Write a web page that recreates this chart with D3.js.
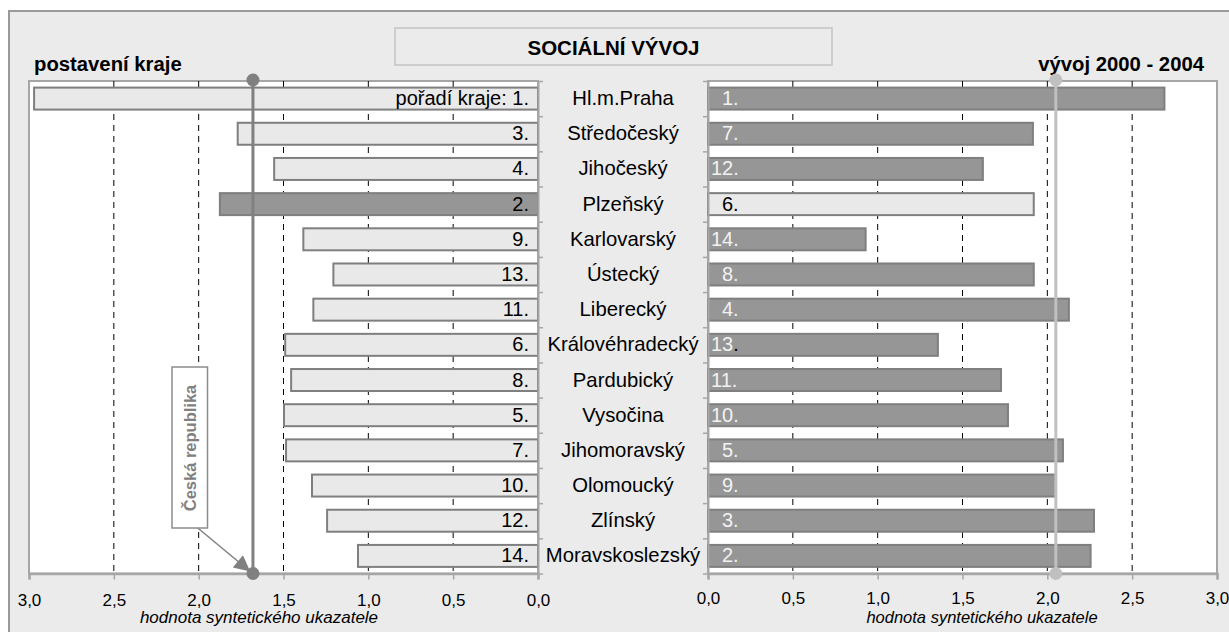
<!DOCTYPE html>
<html><head><meta charset="utf-8">
<script src="https://cdn.jsdelivr.net/npm/d3@7"></script>
<style>
html,body{margin:0;padding:0;background:#fff;}
svg{display:block;font-family:"Liberation Sans",Arial,sans-serif;}
</style></head>
<body>
<script>
// ---- data ----
const categories = ["Hl.m.Praha","Středočeský","Jihočeský","Plzeňský","Karlovarský","Ústecký","Liberecký","Královéhradecký","Pardubický","Vysočina","Jihomoravský","Olomoucký","Zlínský","Moravskoslezský"];
const positionValues = [2.97,1.77,1.555,1.875,1.383,1.206,1.324,1.49,1.455,1.497,1.485,1.332,1.243,1.061];
const positionRanks = [1,3,4,2,9,13,11,6,8,5,7,10,12,14];
const developmentValues = [2.69,1.915,1.62,1.92,0.929,1.92,2.127,1.355,1.727,1.768,2.092,2.05,2.275,2.255];
const developmentRanks = [1,7,12,6,14,8,4,13,11,10,5,9,3,2];
const highlighted = "Plzeňský";
const crPosition = 1.68;
const crDevelopment = 2.05;
const tickValues = [0,0.5,1.0,1.5,2.0,2.5,3.0];
const titleText = "SOCIÁLNÍ VÝVOJ";
const leftTitle = "postavení kraje";
const rightTitle = "vývoj 2000 - 2004";
const axisTitle = "hodnota syntetického ukazatele";
const crLabel = "Česká republika";

// ---- layout ----
const W = 1229, H = 632;
const yTop = 81, yBot = 573.5;
const L = {x0: 29, x1: 538};
const R = {x0: 708, x1: 1217};
const C = {dark:"#969696", light:"#e9e9e9", stroke:"#7f7f7f", frame:"#a6a6a6", bg:"#ebebeb"};

const loc = d3.formatLocale({decimal:",", thousands:" ", grouping:[3], currency:["","Kč"]});
const fmt = loc.format(".1f");

const svg = d3.select("body").append("svg").attr("width", W).attr("height", H);
svg.append("rect").attr("width", W).attr("height", H).attr("fill", "#fff");
svg.append("rect").attr("x", 9).attr("y", 11).attr("width", W + 20).attr("height", H + 20)
  .attr("fill", C.bg).attr("stroke", "#9a9a9a").attr("stroke-width", 2);

// title box
svg.append("rect").attr("x", 395).attr("y", 28).attr("width", 437).attr("height", 37)
  .attr("fill", C.bg).attr("stroke", "#c4c4c4").attr("stroke-width", 1.5);
svg.append("text").attr("x", 613.5).attr("y", 54.5).attr("text-anchor", "middle")
  .attr("font-weight", "bold").attr("font-size", 20.5).attr("fill", "#000").text(titleText);
svg.append("text").attr("x", 34).attr("y", 71).attr("font-weight", "bold")
  .attr("font-size", 20.3).text(leftTitle);
svg.append("text").attr("x", 1204).attr("y", 71).attr("text-anchor", "end").attr("font-weight", "bold")
  .attr("font-size", 20.3).text(rightTitle);

const y = d3.scaleBand().domain(categories).range([yTop, yBot]).paddingInner(0.375).paddingOuter(0.1875);
const yIdx = d3.scaleLinear().domain([0, categories.length]).range([yTop, yBot]);
const xL = d3.scaleLinear().domain([3, 0]).range([L.x0, L.x1]);
const xR = d3.scaleLinear().domain([0, 3]).range([R.x0, R.x1]);

function panel(x, P, values, side) {
  const g = svg.append("g");
  g.append("rect").attr("x", P.x0).attr("y", yTop).attr("width", P.x1 - P.x0).attr("height", yBot - yTop)
    .attr("fill", "#fff").attr("stroke", C.frame).attr("stroke-width", 2);
  g.selectAll(".grid").data(tickValues.filter(v => v > 0 && v < 3)).join("line")
    .attr("x1", d => x(d)).attr("x2", d => x(d)).attr("y1", yTop).attr("y2", yBot)
    .attr("stroke", "#000").attr("stroke-width", 1).attr("stroke-dasharray", "6,5");
  g.selectAll(".bar").data(categories).join("rect")
    .attr("x", (d, i) => Math.min(x(0), x(values[i])))
    .attr("width", (d, i) => Math.abs(x(values[i]) - x(0)))
    .attr("y", d => y(d)).attr("height", y.bandwidth())
    .attr("fill", d => {
      const hl = d === highlighted;
      return side === "L" ? (hl ? C.dark : C.light) : (hl ? C.light : C.dark);
    })
    .attr("stroke", C.stroke).attr("stroke-width", 2);
  const ax = g.append("g").attr("transform", `translate(0,${yBot})`)
    .call(d3.axisBottom(x).tickValues(tickValues).tickFormat(fmt).tickSize(6).tickPadding(side === "L" ? 14 : 12));
  ax.select(".domain").attr("stroke", C.frame).attr("stroke-width", 2.5);
  ax.selectAll(".tick line").attr("stroke", C.frame).attr("stroke-width", 1.5);
  ax.selectAll(".tick text").attr("font-size", 17).attr("fill", "#000")
    .attr("font-family", "'Liberation Sans',Arial,sans-serif");
  const cx = side === "L" ? P.x1 : P.x0;
  const cax = g.append("g").attr("transform", `translate(${cx},0)`)
    .call((side === "L" ? d3.axisRight(yIdx) : d3.axisLeft(yIdx)).tickValues(d3.range(categories.length + 1)).tickFormat("").tickSize(5).tickSizeOuter(0));
  cax.select(".domain").attr("stroke", C.frame).attr("stroke-width", 2);
  cax.selectAll(".tick line").attr("stroke", C.frame).attr("stroke-width", 1.5);
  return g;
}

const gL = panel(xL, L, positionValues, "L");
const gR = panel(xR, R, developmentValues, "R");

gL.selectAll(".rank").data(categories).join("text")
  .attr("x", L.x1 - 9).attr("y", d => y(d) + y.bandwidth() / 2 + 6.5)
  .attr("text-anchor", "end").attr("font-size", 20).attr("fill", "#000")
  .text((d, i) => (i === 0 ? "pořadí kraje: " : "") + positionRanks[i] + ".");

gR.selectAll(".rank").data(categories).join("text")
  .attr("x", (d, i) => R.x0 + (developmentRanks[i] >= 10 ? 3 : 14)).attr("y", d => y(d) + y.bandwidth() / 2 + 6.5)
  .attr("font-size", 20)
  .attr("fill", d => d === highlighted ? "#000" : "#f2f2f2")
  .each(function(d, i) {
    const t = d3.select(this);
    if (d === "Královéhradecký") {
      t.append("tspan").text(String(developmentRanks[i]));
      t.append("tspan").attr("fill", "#000").text(".");
    } else t.text(developmentRanks[i] + ".");
  });

svg.selectAll(".cat").data(categories).join("text")
  .attr("x", 623).attr("y", d => y(d) + y.bandwidth() / 2 + 6.5)
  .attr("text-anchor", "middle").attr("font-size", 20.3).attr("fill", "#000").text(d => d);

svg.append("text").attr("x", 259).attr("y", 623).attr("text-anchor", "middle")
  .attr("font-style", "italic").attr("font-size", 17).text(axisTitle);
svg.append("text").attr("x", 982).attr("y", 623).attr("text-anchor", "middle")
  .attr("font-style", "italic").attr("font-size", 16.5).text(axisTitle);

function refLine(xv, color) {
  svg.append("line").attr("x1", xv).attr("x2", xv).attr("y1", yTop - 1).attr("y2", yBot)
    .attr("stroke", color).attr("stroke-width", 3);
  [yTop - 1, yBot].forEach(yy => svg.append("circle").attr("cx", xv).attr("cy", yy).attr("r", 6.5).attr("fill", color));
}
refLine(xL(crPosition), "#808080");
refLine(xR(crDevelopment), "#c0c0c0");

const defs = svg.append("defs");
defs.append("marker").attr("id", "ah").attr("viewBox", "0 0 10 10").attr("refX", 9).attr("refY", 5)
  .attr("orient", "auto").attr("markerUnits", "userSpaceOnUse")
  .attr("markerWidth", 18).attr("markerHeight", 16)
  .append("path").attr("d", "M0,0 L10,5 L0,10 z").attr("fill", "#808080");
svg.append("line").attr("x1", 190).attr("y1", 521.5).attr("x2", xL(crPosition) - 4).attr("y2", yBot - 3)
  .attr("stroke", "#808080").attr("stroke-width", 1.5).attr("marker-end", "url(#ah)");
svg.append("rect").attr("x", 172).attr("y", 367).attr("width", 35.5).attr("height", 161)
  .attr("fill", "#fff").attr("stroke", "#8c8c8c").attr("stroke-width", 1.5);
svg.append("text").attr("transform", "translate(196,448) rotate(-90)").attr("text-anchor", "middle")
  .attr("font-weight", "bold").attr("font-size", 16.5).attr("fill", "#808080").text(crLabel);
</script>
</body></html>
